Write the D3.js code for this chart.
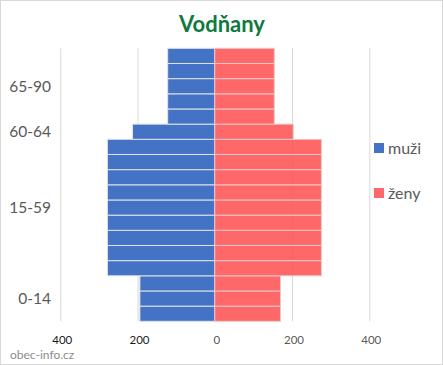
<!DOCTYPE html>
<html><head><meta charset="utf-8">
<script src="https://cdn.jsdelivr.net/npm/d3@7"></script>
<style>
html,body{margin:0;padding:0;background:#fff;}
svg{display:block;font-family:Lato,"Open Sans",sans-serif;}
</style></head>
<body><svg id="c" width="443" height="365"></svg>
<script>
const rowLabels = ["0-4","5-9","10-14","15-19","20-24","25-29","30-34","35-39","40-44","45-49","50-54","55-59","60-64","65-69","70-74","75-79","80-84","85-90"];
const rowGroup  = ["0-14","0-14","0-14","15-59","15-59","15-59","15-59","15-59","15-59","15-59","15-59","15-59","60-64","65-90","65-90","65-90","65-90","65-90"];
const groupLabels = ["0-14","15-59","60-64","65-90"];
const muzi = [194,194,194,278,278,278,278,278,278,278,278,278,213,122,122,122,122,122];
const zeny = [170,170,170,276,276,276,276,276,276,276,276,276,203,154,154,154,154,154];
const tickValues = [-400,-200,0,200,400];
const seriesNames = ["muži","ženy"];
const colors = ["#4472c4","#ff4d4d"];

const svg = d3.select("#c");
svg.append("rect").attr("x",0.5).attr("y",0.5).attr("width",442).attr("height",364)
  .attr("fill","#fff").attr("stroke","#d9d9d9");

const x = d3.scaleLinear().domain([-400,400]).range([60.3,369.3]);
const y = d3.scaleBand().domain(rowLabels.slice().reverse()).range([48.3,321.3]).padding(0);

// gridlines
svg.append("g").attr("transform","translate(0,48.3)")
  .call(d3.axisBottom(x).tickValues(tickValues).tickSize(273).tickFormat(""))
  .call(g=>g.select(".domain").remove())
  .call(g=>g.selectAll("line").attr("stroke","#d9d9d9"));

// bars
const rows = rowLabels.map((r,i)=>({r,m:muzi[i],z:zeny[i]}));
svg.append("g").selectAll("rect").data(rows).join("rect")
  .attr("x",d=>x(-d.m)).attr("y",d=>y(d.r))
  .attr("width",d=>x(0)-x(-d.m)).attr("height",y.bandwidth())
  .attr("fill",colors[0]).attr("stroke","#dfe3ea").attr("stroke-width",1);
svg.append("g").selectAll("rect").data(rows).join("rect")
  .attr("x",x(0)).attr("y",d=>y(d.r))
  .attr("width",d=>x(d.z)-x(0)).attr("height",y.bandwidth())
  .attr("fill",colors[1]).attr("fill-opacity",0.85)
  .attr("stroke","#e8c8c8").attr("stroke-width",1);

// y group labels
svg.append("g").selectAll("text").data(groupLabels).join("text")
  .attr("x",51).attr("y",g=>{
    const idx = rowLabels.filter((r,i)=>rowGroup[i]===g);
    return d3.mean(idx,r=>y(r)+y.bandwidth()/2);
  })
  .attr("dy","0.35em").attr("text-anchor","end")
  .attr("font-size","15.5px").attr("fill","#595959").text(d=>d);

// x tick labels
svg.append("g").selectAll("text").data(tickValues).join("text")
  .attr("x",d=>x(d)+2).attr("y",343.5).attr("text-anchor","middle")
  .attr("font-size","11.5px").attr("fill",d=>d<0?"#1a1a1a":"#595959")
  .text(d=>Math.abs(d));

// title
svg.append("text").attr("x",222).attr("y",31.5).attr("text-anchor","middle")
  .attr("font-size","22px").attr("font-weight","bold").attr("fill","#0e7a3e").text("Vodňany");

// legend
const lg = svg.append("g").selectAll("g").data(seriesNames).join("g")
  .attr("transform",(d,i)=>`translate(374,${143+i*45})`);
lg.append("rect").attr("width",10).attr("height",10).attr("fill",(d,i)=>colors[i]).attr("fill-opacity",(d,i)=>i?0.85:1);
lg.append("text").attr("x",14).attr("y",10.5).attr("font-size","16px").attr("fill","#595959").text(d=>d);

// watermark
svg.append("text").attr("x",10).attr("y",359).attr("font-size","12px").attr("fill","#8c8c8c").text("obec-info.cz");
</script></body></html>
